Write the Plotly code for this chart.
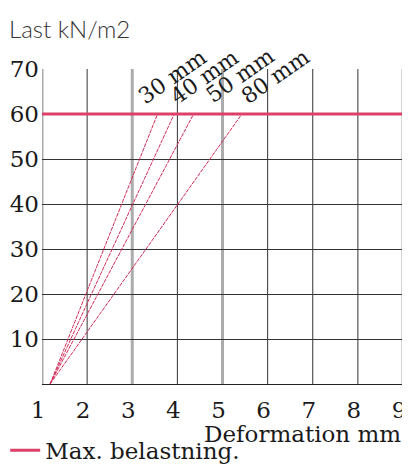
import plotly.graph_objects as go

# ---- data ----
thicknesses = ["30 mm", "40 mm", "50 mm", "80 mm"]
load_points = [0, 60]                      # kN/m2 at start and at max load
deform_30 = [1.18, 3.56]                   # mm
deform_40 = [1.18, 3.93]
deform_50 = [1.18, 4.36]
deform_80 = [1.18, 5.43]
max_load = 60
x_ticks = [1, 2, 3, 4, 5, 6, 7, 8, 9]
y_ticks = [10, 20, 30, 40, 50, 60, 70]

series = [deform_30, deform_40, deform_50, deform_80]

RED_THIN = "#cf2c58"
RED_MAX = "#dc4068"
SERIF = "DejaVu Serif"
INK = "#1a1a1a"

fig = go.Figure()

for name, xs in zip(thicknesses, series):
    fig.add_trace(go.Scatter(
        x=xs, y=load_points, mode="lines", name=name, showlegend=False,
        line=dict(color=RED_THIN, width=1, dash="4px,1px"),
        hoverinfo="skip"))

fig.add_trace(go.Scatter(
    x=[x_ticks[0], x_ticks[-1]], y=[max_load, max_load], mode="lines",
    name="Max. belastning.", showlegend=True,
    line=dict(color=RED_MAX, width=3)))

# thin dark vertical grid lines and thick grey ones (as in the reference)
thick_x = [1, 3, 5, 9]
for xv in x_ticks:
    if xv in thick_x:
        line = dict(color="#acacac", width=3)
    else:
        line = dict(color="#333333", width=1)
    fig.add_shape(type="line", xref="x", yref="paper", x0=xv, x1=xv, y0=0, y1=1,
                  line=line, layer="below")

# rotated thickness labels near the top of each curve
label_offsets = [(0.33, 8.3), (0.68, 8.3), (1.03, 8.5), (0.74, 8.3)]
for name, xs, (dx, dy) in zip(thicknesses, series, label_offsets):
    fig.add_annotation(x=xs[-1] + dx, y=load_points[-1] + dy, xref="x", yref="y",
                       text=name, showarrow=False, textangle=-35,
                       font=dict(family=SERIF, size=22, color=INK),
                       xanchor="center", yanchor="middle")

fig.add_annotation(x=1.0, y=-0.158, xref="paper", yref="paper",
                   text="Deformation mm", showarrow=False,
                   xanchor="right", yanchor="middle",
                   font=dict(family=SERIF, size=23, color=INK))

fig.add_annotation(x=-0.097, y=1.13, xref="paper", yref="paper",
                   text="Last kN/m2", showarrow=False,
                   xanchor="left", yanchor="middle",
                   font=dict(family="Lato", size=24, color="#333333", weight=300))

# the page body adds an 8px offset, so the figure is sized/margined to compensate
fig.update_layout(
    width=402, height=463,
    margin=dict(l=34, r=7, t=61, b=87, autoexpand=False),
    paper_bgcolor="white", plot_bgcolor="white",
    showlegend=True,
    legend=dict(x=-0.102, y=-0.142, xanchor="left", yanchor="top",
                font=dict(family=SERIF, size=23, color=INK),
                itemwidth=30, bgcolor="rgba(0,0,0,0)", borderwidth=0,
                tracegroupgap=0),
    xaxis=dict(range=[1, 9], tickvals=x_ticks, ticktext=[str(v) for v in x_ticks],
               showgrid=False, automargin=False,
               zeroline=False, showline=True, linecolor="#222222", linewidth=1,
               ticks="", ticklabelstandoff=5, ticklabelshift=-4,
               tickfont=dict(family=SERIF, size=23, color=INK),
               fixedrange=True),
    yaxis=dict(range=[0, 70], tickvals=y_ticks, ticktext=[str(v) for v in y_ticks],
               showgrid=True, gridcolor="#333333", gridwidth=1, automargin=False,
               zeroline=False, showline=False,
               ticks="", ticklabelstandoff=2,
               tickfont=dict(family=SERIF, size=23, color=INK),
               fixedrange=True),
)

fig.write_html("out.html")
